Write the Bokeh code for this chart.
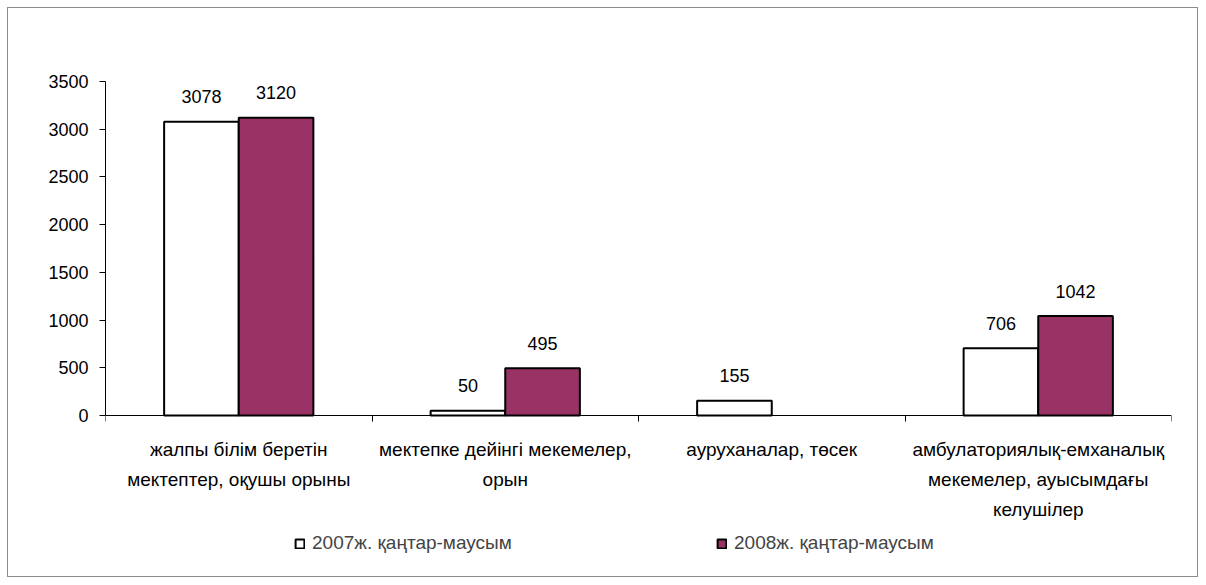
from bokeh.plotting import figure
from bokeh.models import ColumnDataSource, FixedTicker, Label, Legend, LegendItem, Range1d
from bokeh.embed import file_html
from bokeh.resources import INLINE
from bokeh.core.properties import value

# ---- data ----
cat_lines = [
    ["жалпы білім беретін", "мектептер, оқушы орыны"],
    ["мектепке дейінгі мекемелер,", "орын"],
    ["ауруханалар, төсек"],
    ["амбулаториялық-емханалық", "мекемелер, ауысымдағы", "келушілер"],
]
series_names = ["2007ж. қаңтар-маусым", "2008ж. қаңтар-маусым"]
s2007 = [3078, 50, 155, 706]
s2008 = [3120, 495, None, 1042]
y_ticks = [0, 500, 1000, 1500, 2000, 2500, 3000, 3500]

FONT = "Liberation Sans"
PURPLE = "#993366"

# layout (screen px)
OFF = 7
W, H = 1191, 570
FRAME_L, FRAME_R, FRAME_T, FRAME_B = 104, 1170, 80, 557
ZERO_Y = 414
ML = FRAME_L - OFF
MR = OFF + W - FRAME_R
MT = FRAME_T - OFF
MB = OFF + H - FRAME_B
ymax = 3500
units_per_px = ymax / (ZERO_Y - FRAME_T)
ymin = -(FRAME_B - ZERO_Y) * units_per_px

p = figure(width=W, height=H, output_backend="svg", toolbar_location=None,
           x_range=Range1d(0, len(cat_lines)), y_range=Range1d(ymin, ymax),
           min_border_left=ML, min_border_right=MR, min_border_top=MT, min_border_bottom=MB)
p.margin = (OFF, 0, 0, OFF)
p.styles = {"border": "1px solid #8c8c8c"}
p.outline_line_color = None
p.grid.visible = False

centers = [i + 0.5 for i in range(len(cat_lines))]
bw = 0.28
x07 = [c - bw / 2 for c in centers]
x08 = [c + bw / 2 for c in centers]

src07 = ColumnDataSource(dict(x=x07, top=s2007))
v08 = [v if v is not None else float("nan") for v in s2008]
src08 = ColumnDataSource(dict(x=x08, top=v08))

r07 = p.vbar(x="x", top="top", width=bw, bottom=0, source=src07,
             fill_color="white", line_color="black", line_width=2)
r08 = p.vbar(x="x", top="top", width=bw, bottom=0, source=src08,
             fill_color=PURPLE, line_color="black", line_width=2)

# value labels
lx, ly, lt = [], [], []
for xs, vals in ((x07, s2007), (x08, s2008)):
    for x, v in zip(xs, vals):
        if v is not None:
            lx.append(x); ly.append(v); lt.append(str(v))
p.text(x=lx, y=ly, text=lt, text_align="center", text_baseline="alphabetic",
       y_offset=-25, text_font=value(FONT), text_font_size="18px", text_color="black")

# axes
ya = p.yaxis[0]
ya.ticker = FixedTicker(ticks=y_ticks)
ya.bounds = (0, ymax)
ya.minor_tick_line_color = None
ya.major_tick_out = 6
ya.major_tick_in = 0
ya.major_label_standoff = 11
ya.major_label_text_font = FONT
ya.major_label_text_font_size = "18px"
ya.major_label_text_color = "black"
ya.axis_line_color = "black"
ya.major_tick_line_color = "black"

xa = p.xaxis[0]
xa.fixed_location = 0
xa.ticker = FixedTicker(ticks=[], minor_ticks=list(range(len(cat_lines) + 1)))
xa.minor_tick_out = 6
xa.minor_tick_in = 0
xa.minor_tick_line_color = "black"
xa.major_tick_line_color = None
xa.axis_line_color = "black"
xa.major_label_text_font_size = "0px"

# category labels
line_px = [34, 64, 94]
for c, lines in zip(centers, cat_lines):
    for k, t in enumerate(lines):
        p.add_layout(Label(x=c, y=-line_px[k] * units_per_px, text=t, text_align="center",
                           text_baseline="middle", text_font=FONT, text_font_size="19px",
                           text_color="black"))

# legend: one entry per series, each placed on its own
for name, rend, lx0 in ((series_names[0], r07, 293 - FRAME_L), (series_names[1], r08, 715 - FRAME_L)):
    lg = Legend(items=[LegendItem(label=name, renderers=[rend])],
                location=(lx0, 4), orientation="horizontal",
                glyph_width=11, glyph_height=11, label_standoff=7,
                padding=0, margin=0, border_line_color=None, background_fill_alpha=0,
                label_text_font=FONT, label_text_font_size="19px")
    p.add_layout(lg, "center")

open("out.html", "w").write(file_html(p, INLINE))
